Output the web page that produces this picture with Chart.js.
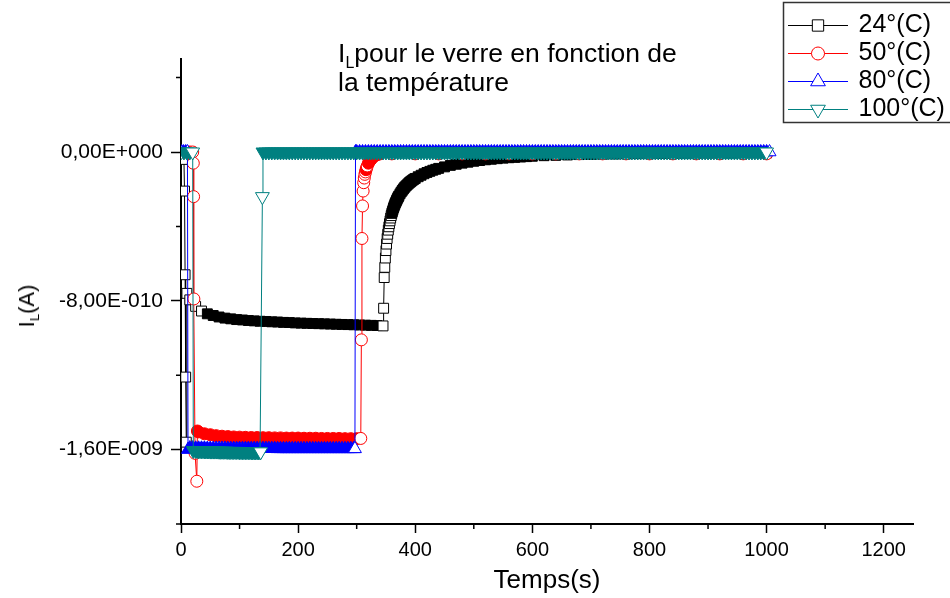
<!DOCTYPE html>
<html><head><meta charset="utf-8">
<script src="https://cdn.jsdelivr.net/npm/chart.js@4.4.1/dist/chart.umd.min.js"></script>
<style>
html,body{margin:0;padding:0;background:#fff;}
#wrap{position:relative;width:950px;height:598px;overflow:hidden;font-family:'Liberation Sans',Arial,sans-serif;color:#000;}
#c{position:absolute;left:0;top:0;}
#title{position:absolute;left:338px;top:39px;font-size:26.5px;line-height:29px;white-space:nowrap;}
#ytitle{position:absolute;left:27px;top:306px;transform:translate(-50%,-50%) rotate(-90deg);font-size:22px;line-height:1;white-space:nowrap;}
sub{font-size:0.6em;vertical-align:-0.35em;line-height:0;}
</style></head>
<body><div id="wrap"><canvas id="c" width="950" height="598"></canvas>
<div id="title">I<sub>L</sub>pour le verre en fonction de<br>la température</div>
<div id="ytitle">I<sub>L</sub>(A)</div></div>
<script>
// Values: [time (s), current in units of 1e-10 A]
const seriesNames = ['24°(C)', '50°(C)', '80°(C)', '100°(C)'];
const xTickLabels = ['0','200','400','600','800','1000','1200'];
const yTickValues = [0, -8, -16];
const yTickLabels = ['0,00E+000', '-8,00E-010', '-1,60E-009'];

const s24 = [[0,0],[3,0],[5,-0.4],[6,-2.1],[7,-6.6],[8,-12.1],[9,-15.6],[10,-7.6],
[15,-7.95],[25,-8.3],[35,-8.55],[45,-8.7],[55,-8.79],[65,-8.87],[75,-8.93],[85,-8.97],[95,-9.01],[105,-9.03],[115,-9.06],[125,-9.08],[135,-9.1],[145,-9.11],[155,-9.13],[165,-9.14],[175,-9.16],[185,-9.17],[195,-9.19],[205,-9.2],[215,-9.21],[225,-9.22],[235,-9.23],[245,-9.24],[255,-9.25],[265,-9.26],[275,-9.27],[285,-9.28],[295,-9.29],[305,-9.3],[315,-9.31],[325,-9.32],[335,-9.33],[345,-9.35],
[346,-8.4],[347,-6.75],[348,-6.2],[349,-5.7],[350,-5.3],[351,-4.95],[352,-4.65],[353,-4.42],[354,-4.2],[355,-4.02],[356,-3.85],[357,-3.7],[358,-3.55],[359,-3.42],[360,-3.3],[361,-3.2],[362,-3.1],[363,-3.0],[364,-2.92],[365,-2.83],[366,-2.75],[367,-2.68],[368,-2.61],[369,-2.55],[370,-2.48],[371,-2.42],[372,-2.36],[374,-2.25],[376,-2.15],[378,-2.06],[380,-1.98],[382,-1.9],[384,-1.83],[386,-1.77],[388,-1.71],[390,-1.65],[392,-1.6],[394,-1.55],[396,-1.5],[398,-1.46],[400,-1.42],[405,-1.33],[410,-1.25],[415,-1.17],[420,-1.1],[425,-1.04],[430,-0.98],[435,-0.93],[440,-0.88],[450,-0.8],[460,-0.72],[470,-0.66],[480,-0.6],[490,-0.55],[500,-0.5],[510,-0.46],[520,-0.42],[530,-0.39],[540,-0.36],[550,-0.33],[560,-0.31],[570,-0.29],[580,-0.27],[590,-0.25],[600,-0.23],[620,-0.2],[640,-0.18],[660,-0.16],[680,-0.14],[700,-0.13],[720,-0.12],[740,-0.11],[760,-0.1],[780,-0.09],[800,-0.09],[820,-0.08],[840,-0.08],[860,-0.07],[880,-0.07],[900,-0.06],[920,-0.06],[940,-0.06],[960,-0.05],[980,-0.05],[1000,-0.05]];

const s50 = [[0,0],[5,0],[10,0],[15,0],[20,0],[21,-0.6],[21.5,-2.4],[22,-7.9],[24,-16.2],[27,-17.7],[28,-15.0],
[30,-15.05],[40,-15.15],[50,-15.2],[60,-15.25],[70,-15.28],[80,-15.3],[90,-15.32],[100,-15.33],[110,-15.34],[120,-15.35],[130,-15.35],[140,-15.36],[150,-15.36],[160,-15.37],[170,-15.37],[180,-15.38],[190,-15.38],[200,-15.38],[210,-15.39],[220,-15.39],[230,-15.39],[240,-15.4],[250,-15.4],[260,-15.4],[270,-15.4],[280,-15.41],[290,-15.41],[300,-15.41],[307,-15.4],
[308,-10.1],[309,-4.65],[310,-2.9],[311,-2.1],[312,-1.65],[313,-1.4],[314,-1.2],[315,-1.07],[316,-0.95],[317,-0.85],[318,-0.75],[320,-0.6],[322,-0.5],[324,-0.42],[326,-0.33],[328,-0.27],[330,-0.22],[335,-0.15],[340,-0.1],
[360,-0.1],[400,-0.1],[440,-0.1],[480,-0.1],[520,-0.1],[560,-0.1],[600,-0.1],[640,-0.1],[680,-0.1],[720,-0.1],[760,-0.1],[800,-0.1],[840,-0.1],[880,-0.1],[920,-0.1],[960,-0.1],[1000,-0.1]];

const s80 = [[0,0],[4,0],[8,0],[11,0],[12,-16.0],
[15,-15.92],[20,-15.92],[25,-15.93],[30,-15.93],[35,-15.93],[40,-15.93],[45,-15.94],[50,-15.94],[55,-15.94],[60,-15.94],[65,-15.94],[70,-15.94],[75,-15.94],[80,-15.95],[85,-15.95],[90,-15.95],[95,-15.95],[100,-15.95],[105,-15.95],[110,-15.95],[115,-15.95],[120,-15.95],[125,-15.95],[130,-15.95],[135,-15.95],[140,-15.95],[145,-15.95],[150,-15.95],[155,-15.95],[160,-15.95],[165,-15.96],[170,-15.96],[175,-15.96],[180,-15.96],[185,-15.96],[190,-15.96],[195,-15.96],[200,-15.96],[205,-15.96],[210,-15.96],[215,-15.96],[220,-15.96],[225,-15.96],[230,-15.96],[235,-15.96],[240,-15.96],[245,-15.96],[250,-15.96],[255,-15.96],[260,-15.96],[265,-15.96],[270,-15.96],[275,-15.96],[280,-15.96],[285,-15.96],[290,-15.96],[295,-15.96],[297,-15.96],
[298,0],[300,0],[305,0],[310,0],[315,0],[320,0],[325,0],[330,0],[335,0],[340,0],[345,0],[350,0],[355,0],[360,0],[365,0],[370,0],[375,0],[380,0],[385,0],[390,0],[395,0],[400,0],[405,0],[410,0],[415,0],[420,0],[425,0],[430,0],[435,0],[440,0],[445,0],[450,0],[455,0],[460,0],[465,0],[470,0],[475,0],[480,0],[485,0],[490,0],[495,0],[500,0],[505,0],[510,0],[515,0],[520,0],[525,0],[530,0],[535,0],[540,0],[545,0],[550,0],[555,0],[560,0],[565,0],[570,0],[575,0],[580,0],[585,0],[590,0],[595,0],[600,0],[605,0],[610,0],[615,0],[620,0],[625,0],[630,0],[635,0],[640,0],[645,0],[650,0],[655,0],[660,0],[665,0],[670,0],[675,0],[680,0],[685,0],[690,0],[695,0],[700,0],[705,0],[710,0],[715,0],[720,0],[725,0],[730,0],[735,0],[740,0],[745,0],[750,0],[755,0],[760,0],[765,0],[770,0],[775,0],[780,0],[785,0],[790,0],[795,0],[800,0],[805,0],[810,0],[815,0],[820,0],[825,0],[830,0],[835,0],[840,0],[845,0],[850,0],[855,0],[860,0],[865,0],[870,0],[875,0],[880,0],[885,0],[890,0],[895,0],[900,0],[905,0],[910,0],[915,0],[920,0],[925,0],[930,0],[935,0],[940,0],[945,0],[950,0],[955,0],[960,0],[965,0],[970,0],[975,0],[980,0],[985,0],[990,0],[995,0],[1000,0],[1005,0]];

const s100 = [[0,0],[5,0],[10,0],[15,0],[20,0],[21,-16.05],
[25,-16.05],[27.5,-16.05],[30,-16.06],[32.5,-16.06],[35,-16.06],[37.5,-16.06],[40,-16.07],[42.5,-16.07],[45,-16.07],[47.5,-16.07],[50,-16.08],[52.5,-16.08],[55,-16.08],[57.5,-16.08],[60,-16.08],[62.5,-16.08],[65,-16.09],[67.5,-16.09],[70,-16.09],[72.5,-16.09],[75,-16.09],[77.5,-16.09],[80,-16.1],[82.5,-16.1],[85,-16.1],[87.5,-16.1],[90,-16.1],[92.5,-16.1],[95,-16.1],[97.5,-16.1],[100,-16.11],[102.5,-16.11],[105,-16.11],[107.5,-16.11],[110,-16.11],[112.5,-16.11],[115,-16.11],[117.5,-16.11],[120,-16.12],[122.5,-16.12],[125,-16.12],[127.5,-16.12],[130,-16.12],[132.5,-16.12],[135,-16.12],[136,-16.12],
[139,-2.4],[140,0],[145,0],[150,0],[155,0],[160,0],[165,0],[170,0],[175,0],[180,0],[185,0],[190,0],[195,0],[200,0],[205,0],[210,0],[215,0],[220,0],[225,0],[230,0],[235,0],[240,0],[245,0],[250,0],[255,0],[260,0],[265,0],[270,0],[275,0],[280,0],[285,0],[290,0],[295,0],[300,0],[305,0],[310,0],[315,0],[320,0],[325,0],[330,0],[335,0],[340,0],[345,0],[350,0],[355,0],[360,0],[365,0],[370,0],[375,0],[380,0],[385,0],[390,0],[395,0],[400,0],[405,0],[410,0],[415,0],[420,0],[425,0],[430,0],[435,0],[440,0],[445,0],[450,0],[455,0],[460,0],[465,0],[470,0],[475,0],[480,0],[485,0],[490,0],[495,0],[500,0],[505,0],[510,0],[515,0],[520,0],[525,0],[530,0],[535,0],[540,0],[545,0],[550,0],[555,0],[560,0],[565,0],[570,0],[575,0],[580,0],[585,0],[590,0],[595,0],[600,0],[605,0],[610,0],[615,0],[620,0],[625,0],[630,0],[635,0],[640,0],[645,0],[650,0],[655,0],[660,0],[665,0],[670,0],[675,0],[680,0],[685,0],[690,0],[695,0],[700,0],[705,0],[710,0],[715,0],[720,0],[725,0],[730,0],[735,0],[740,0],[745,0],[750,0],[755,0],[760,0],[765,0],[770,0],[775,0],[780,0],[785,0],[790,0],[795,0],[800,0],[805,0],[810,0],[815,0],[820,0],[825,0],[830,0],[835,0],[840,0],[845,0],[850,0],[855,0],[860,0],[865,0],[870,0],[875,0],[880,0],[885,0],[890,0],[895,0],[900,0],[905,0],[910,0],[915,0],[920,0],[925,0],[930,0],[935,0],[940,0],[945,0],[950,0],[955,0],[960,0],[965,0],[970,0],[975,0],[980,0],[985,0],[990,0],[995,0],[1000,0]];

const FONT = "'Liberation Sans', Arial, sans-serif";
const colors = ['#000000', '#ff0000', '#0000ff', '#008080'];
const styles = [
  {pointStyle: 'rect', radius: 7, rotation: 0},
  {pointStyle: 'circle', radius: 6, rotation: 0},
  {pointStyle: 'triangle', radius: 7.5, rotation: 0},
  {pointStyle: 'triangle', radius: 8, rotation: 180}
];

// Dense runs look solid (markers overlapping), isolated markers stay hollow.
function fillFor(color) {
  return (c) => {
    if (!c || c.type !== 'data') return '#ffffff';
    const d = c.dataset.data, i = c.dataIndex, p = d[i], n = d[i + 1];
    if (!p || !n || i === 0) return '#ffffff';
    return (Math.abs(n.x - p.x) <= 25 && Math.abs(n.y - p.y) < 0.12) ? color : '#ffffff';
  };
}

function legendImg(color, st, r) {
  const cv = document.createElement('canvas');
  cv.width = 60; cv.height = 22;
  const g = cv.getContext('2d');
  g.strokeStyle = color; g.lineWidth = 1;
  g.beginPath(); g.moveTo(0, 11.5); g.lineTo(60, 11.5); g.stroke();
  g.fillStyle = '#ffffff';
  if (Chart.helpers && Chart.helpers.drawPoint) {
    Chart.helpers.drawPoint(g, {pointStyle: st.pointStyle, radius: r, rotation: st.rotation, borderWidth: 1}, 30, 11.5);
  } else {
    g.beginPath(); g.arc(30, 11.5, r, 0, Math.PI * 2); g.fill(); g.stroke();
  }
  return cv;
}
const legendRadii = [8, 6.5, 8.5, 8.5];
const legendImgs = colors.map((c, i) => legendImg(c, styles[i], legendRadii[i]));

const allSeries = [s24, s50, s80, s100];
const datasets = allSeries.map((s, i) => ({
  label: seriesNames[i],
  data: s.map(p => ({x: p[0], y: p[1]})),
  borderColor: colors[i],
  backgroundColor: '#ffffff',
  borderWidth: 1,
  pointStyle: styles[i].pointStyle,
  pointRadius: styles[i].radius,
  pointRotation: styles[i].rotation,
  pointBorderColor: colors[i],
  pointBorderWidth: 1,
  pointBackgroundColor: fillFor(colors[i]),
  tension: 0,
  fill: false,
  order: 4 - i
}));

function isMajorX(v) { return xTickLabels.indexOf(String(v)) >= 0; }
function majorYIndex(v) { return yTickValues.findIndex(t => Math.abs(t - v) < 1e-6); }

const layoutPlugin = {
  id: 'placeLegend',
  afterLayout(chart) {
    const lg = chart.legend;
    if (!lg) return;
    lg.left = 787; lg.top = 9.5; lg.width = 163; lg.height = 115;
    lg.right = 950; lg.bottom = 125;
  },
  afterDraw(chart) {
    const ctx = chart.ctx, xs = chart.scales.x, ys = chart.scales.y, a = chart.chartArea;
    ctx.save();
    ctx.strokeStyle = '#000'; ctx.lineWidth = 1.5;
    ctx.beginPath();
    xs.ticks.forEach(t => {
      if (!isMajorX(t.value) && t.value % 100 === 0) {
        const px = xs.getPixelForValue(t.value);
        ctx.moveTo(px, a.bottom); ctx.lineTo(px, a.bottom + 5);
      }
    });
    ys.ticks.forEach(t => {
      if (majorYIndex(t.value) < 0 && Math.abs(t.value % 4) < 1e-6) {
        const py = ys.getPixelForValue(t.value);
        ctx.moveTo(a.left, py); ctx.lineTo(a.left - 5, py);
      }
    });
    ctx.stroke();
    // legend frame
    ctx.strokeStyle = '#333'; ctx.lineWidth = 1.5;
    ctx.strokeRect(783.5, 2.5, 200, 120);
    ctx.restore();
  }
};

new Chart(document.getElementById('c'), {
  type: 'line',
  data: {datasets},
  plugins: [layoutPlugin],
  options: {
    responsive: false,
    animation: false,
    events: [],
    devicePixelRatio: 1,
    layout: {padding: {left: 0, top: 59, right: 37, bottom: 0}},
    plugins: {
      tooltip: {enabled: false},
      title: {display: false},
      legend: {
        display: true,
        position: 'chartArea',
        align: 'start',
        labels: {
          usePointStyle: true,
          pointStyleWidth: 56,
          padding: 3,
          color: '#000',
          font: {family: FONT, size: 25},
          sort: (a, b) => a.datasetIndex - b.datasetIndex,
          generateLabels: (chart) => {
            const items = Chart.defaults.plugins.legend.labels.generateLabels(chart);
            items.forEach(it => { it.pointStyle = legendImgs[it.datasetIndex]; it.rotation = 0; });
            return items;
          }
        }
      }
    },
    scales: {
      x: {
        type: 'linear',
        min: 0, max: 1250,
        afterFit: (s) => { s.height = 74; },
        border: {display: true, color: '#000', width: 2},
        grid: {
          display: true, drawOnChartArea: false, drawTicks: true, tickLength: 9, tickWidth: 1.5,
          tickColor: (c) => (c.tick && isMajorX(c.tick.value)) ? '#000' : 'rgba(0,0,0,0)'
        },
        ticks: {
          stepSize: 100, includeBounds: false, autoSkip: false, maxRotation: 0, padding: 5,
          color: '#000', font: {family: FONT, size: 20},
          callback: (v) => isMajorX(v) ? String(v) : ''
        },
        title: {display: true, text: 'Temps(s)', color: '#000', font: {family: FONT, size: 26}, padding: {top: 0, bottom: 2}}
      },
      y: {
        type: 'linear',
        min: -20, max: 5,
        afterFit: (s) => { s.width = 181; },
        border: {display: true, color: '#000', width: 2},
        grid: {
          display: true, drawOnChartArea: false, drawTicks: true, tickLength: 10, tickWidth: 1.5,
          tickColor: (c) => (c.tick && majorYIndex(c.tick.value) >= 0) ? '#000' : 'rgba(0,0,0,0)'
        },
        ticks: {
          stepSize: 4, includeBounds: false, autoSkip: false, padding: 8,
          color: '#000', font: {family: FONT, size: 21},
          callback: (v) => { const k = majorYIndex(v); return k >= 0 ? yTickLabels[k] : ''; }
        },
        title: {display: false}
      }
    }
  }
});
</script>
</body></html>
